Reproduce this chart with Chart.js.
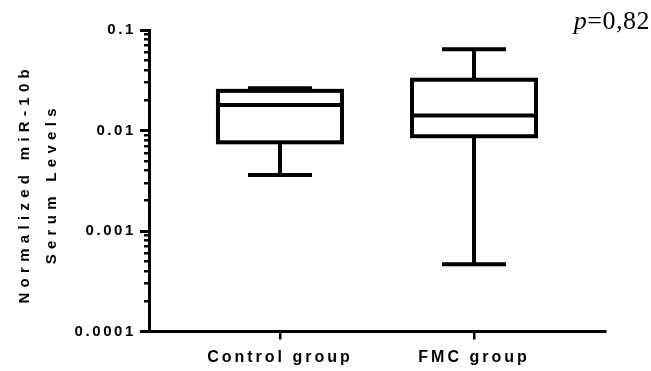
<!DOCTYPE html>
<html>
<head>
<meta charset="utf-8">
<script src="https://cdn.jsdelivr.net/npm/chart.js@4"></script>
<style>
  body { margin: 0; background: #fff; }
  canvas { display: block; }
</style>
</head>
<body>
<canvas id="boxChart" width="651" height="371"></canvas>
<script>
const groups = ["Control group", "FMC group"];
const groupPos = [0, 1];
const whiskerMin = [0.00361, 0.000467];
const q1 = [0.00763, 0.00877];
const median = [0.0179, 0.0141];
const q3 = [0.0248, 0.0320];
const whiskerMax = [0.0263, 0.0643];

const yTickValues = [0.0001, 0.001, 0.01, 0.1];
const yTickLabels = ["0.0001", "0.001", "0.01", "0.1"];
const yTitleLines = ["Normalized miR-10b", "Serum Levels"];
const pValue = { label: "p", rest: "=0,82" };

// minor log ticks 2..9 in every decade
const yMinorValues = [];
for (let i = 0; i < yTickValues.length - 1; i++) {
  for (let k = 2; k <= 9; k++) yMinorValues.push(+(yTickValues[i] * k).toPrecision(3));
}

// letter spacing for the tick labels, set per scale
const spacingPlugin = {
  id: "spacing",
  afterLayout(chart) {
    const spacing = { x: "3px", y: "2.6px" };
    for (const id in spacing) {
      const s = chart.scales[id];
      if (!s || s._spaced) continue;
      const orig = s.drawLabels.bind(s);
      s.drawLabels = function (area) {
        const ctx = this.ctx;
        const prev = ctx.letterSpacing;
        ctx.letterSpacing = spacing[id];
        orig(area);
        ctx.letterSpacing = prev;
      };
      s._spaced = true;
    }
  }
};

const boxPlugin = {
  id: "boxes",
  afterDatasetsDraw(chart) {
    const ctx = chart.ctx;
    const y = chart.scales.y;
    const meta = chart.getDatasetMeta(0);
    ctx.save();
    ctx.strokeStyle = "#000";
    ctx.lineWidth = 4;
    ctx.lineCap = "butt";
    meta.data.forEach((bar, i) => {
      const w = bar.width - 4;
      const left = bar.x - w / 2;
      const yq1 = y.getPixelForValue(q1[i]);
      const yq3 = y.getPixelForValue(q3[i]);
      const ymed = y.getPixelForValue(median[i]);
      const ymin = y.getPixelForValue(whiskerMin[i]);
      const ymax = y.getPixelForValue(whiskerMax[i]);
      const cap = bar.width / 4;
      ctx.beginPath();
      // whiskers
      ctx.moveTo(bar.x, yq3); ctx.lineTo(bar.x, ymax);
      ctx.moveTo(bar.x, yq1); ctx.lineTo(bar.x, ymin);
      ctx.moveTo(bar.x - cap, ymax); ctx.lineTo(bar.x + cap, ymax);
      ctx.moveTo(bar.x - cap, ymin); ctx.lineTo(bar.x + cap, ymin);
      ctx.stroke();
      ctx.fillStyle = "#fff";
      ctx.fillRect(left, yq3, w, yq1 - yq3);
      ctx.strokeRect(left, yq3, w, yq1 - yq3);
      ctx.beginPath();
      ctx.moveTo(left - 2, ymed); ctx.lineTo(left + w + 2, ymed);
      ctx.stroke();
    });
    ctx.restore();
  },
  afterDraw(chart) {
    const ctx = chart.ctx;
    const area = chart.chartArea;
    ctx.save();
    // y axis title, two rotated lines
    ctx.fillStyle = "#000";
    ctx.font = "bold 15px 'Liberation Sans', Arial, sans-serif";
    ctx.letterSpacing = "5.3px";
    ctx.textAlign = "center";
    ctx.textBaseline = "middle";
    const cy = (area.top + area.bottom) / 2;
    [25, 52].forEach((x, i) => {
      ctx.save();
      ctx.translate(x, cy + 3);
      ctx.rotate(-Math.PI / 2);
      ctx.fillText(yTitleLines[i], 0, 0);
      ctx.restore();
    });
    // p value, top right
    ctx.letterSpacing = "0.5px";
    ctx.textAlign = "left";
    ctx.textBaseline = "alphabetic";
    ctx.font = "26px 'Liberation Serif', 'Times New Roman', serif";
    const restW = ctx.measureText(pValue.rest).width;
    ctx.fillText(pValue.rest, 650 - restW, 29);
    ctx.font = "italic 26px 'Liberation Serif', 'Times New Roman', serif";
    const pW = ctx.measureText(pValue.label).width;
    ctx.fillText(pValue.label, 650 - restW - pW, 29);
    ctx.restore();
  }
};

const data = {
  datasets: [
    {
      type: "bar",
      data: groupPos.map((x, i) => ({ x: x, y: [q1[i], q3[i]] })),
      backgroundColor: "#fff",
      borderWidth: 0,
      barThickness: 128,
      yAxisID: "y"
    }
  ]
};

const config = {
  type: "bar",
  data: data,
  options: {
    responsive: false,
    animation: false,
    devicePixelRatio: 1,
    layout: { padding: { top: 30, right: 46, left: 0, bottom: 0 } },
    plugins: {
      legend: { display: false },
      tooltip: { enabled: false }
    },
    scales: {
      x: {
        type: "linear",
        min: -0.675,
        max: 1.675,
        offset: false,
        afterBuildTicks: (s) => { s.ticks = groupPos.map(v => ({ value: v })); },
        afterFit: (s) => { s.height = 39.5; },
        ticks: {
          callback: (v) => groups[groupPos.indexOf(v)] || "",
          color: "#000",
          font: { family: "'Liberation Sans', Arial, sans-serif", size: 16, weight: "bold" },
          padding: 8,
          maxRotation: 0,
          autoSkip: false
        },
        grid: { offset: false, drawOnChartArea: false, color: "#000", lineWidth: 2.5, tickLength: 8 },
        border: { display: true, color: "#000", width: 3 }
      },
      y: {
        type: "logarithmic",
        min: 0.0001,
        max: 0.1,
        weight: 1,
        afterBuildTicks: (s) => { s.ticks = yTickValues.map(v => ({ value: v, major: true })); },
        afterFit: (s) => { s.width = 149; },
        ticks: {
          callback: (v) => yTickLabels[yTickValues.indexOf(v)] || "",
          color: "#000",
          font: { family: "'Liberation Sans', Arial, sans-serif", size: 15, weight: "bold" },
          padding: 4,
          autoSkip: false
        },
        grid: { drawOnChartArea: false, color: "#000", lineWidth: 3, tickLength: 9 },
        border: { display: true, color: "#000", width: 3 }
      },
      yMinor: {
        type: "logarithmic",
        position: "left",
        min: 0.0001,
        max: 0.1,
        weight: 0,
        afterBuildTicks: (s) => { s.ticks = yMinorValues.map(v => ({ value: v })); },
        afterFit: (s) => { s.width = 0; },
        ticks: { display: false },
        grid: { drawOnChartArea: false, color: "#000", lineWidth: 2.5, tickLength: 5 },
        border: { display: false }
      }
    }
  },
  plugins: [spacingPlugin, boxPlugin]
};

const ctxBox = document.getElementById("boxChart").getContext("2d");
new Chart(ctxBox, config);
</script>
</body>
</html>
